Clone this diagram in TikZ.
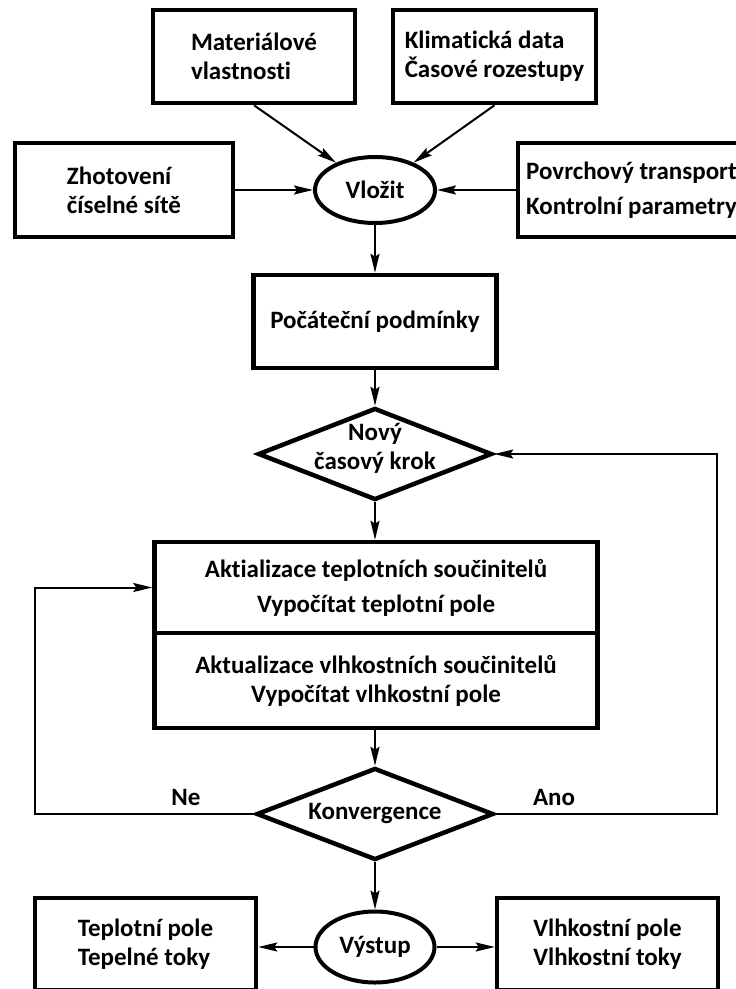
\documentclass[tikz,border=0pt]{standalone}
\usepackage{fontspec}
\setmainfont{Carlito}[Ligatures={NoCommon}]
\usepackage{tikz}
\usetikzlibrary{arrows.meta}
\usetikzlibrary{shapes.geometric}

\begin{document}
\begin{tikzpicture}[x=1pt, y=-1pt, line width=2pt]
    \tikzset{>={Stealth[length=19pt, width=9pt, inset=3pt]}}
    \tikzset{txt/.style={font=\fontsize{25}{29}\selectfont\bfseries, align=left, inner sep=0pt}}
    \tikzset{blk/.style={txt, draw, rectangle, line width=4.5pt}}
    \tikzset{oval/.style={txt, draw, ellipse, line width=4pt}}
    \tikzset{dia/.style={draw, diamond, line width=4.5pt, inner sep=0pt}}

    \useasboundingbox (0, 0) rectangle (736, 989);

    % Inputs round the first oval
    \node[blk, minimum width=202, minimum height=93] (mat) at (254, 56.5) {Materiálové\\vlastnosti};
    \node[blk, minimum width=203, minimum height=93] (klim) at (494.5, 56.5) {Klimatická data\\Časové rozestupy};
    \node[blk, minimum width=218, minimum height=94] (mesh) at (124, 190) {Zhotovení\\číselné sítě};
    \node[blk, minimum width=227, minimum height=94, font=\fontsize{25}{35}\selectfont\bfseries] (surf) at (631.5, 190) {Povrchový transport\\Kontrolní parametry};
    \node[oval, minimum width=120, minimum height=66] (input) at (375, 190) {Vložit};

    \draw[->] (mat.south) -- (input);
    \draw[->] (klim.south) -- (input);
    \draw[->] (mesh.east) -- (input.west);
    \draw[->] (surf.west) -- (input.east);

    % Time loop
    \node[blk, minimum width=243, minimum height=93] (init) at (375, 321.5) {Počáteční podmínky};
    \node[dia, minimum width=234, minimum height=92,
        label={[txt, align=center, yshift=6pt]center:Nový\\časový krok}] (step) at (375, 454) {};
    \node[blk, minimum width=443, minimum height=91, align=center, font=\fontsize{25}{35}\selectfont\bfseries] (heat) at (376, 587.5)
        {Aktializace teplotních součinitelů\\Vypočítat teplotní pole};
    \node[blk, minimum width=443, minimum height=95, align=center] (moist) at (376, 680.5)
        {Aktualizace vlhkostních součinitelů\\Vypočítat vlhkostní pole};
    \node[dia, minimum width=237, minimum height=92,
        label={[txt]center:Konvergence}] (conv) at (375, 814) {};

    \draw[->] (input.south) -- (init.north);
    \draw[->] (init.south) -- (step.north);
    \draw[->] (step.south) -- (step.south |- heat.north);
    \draw[->] (step.south |- moist.south) -- (conv.north);

    % Return paths
    \coordinate (lft) at (35, 814);
    \coordinate (rgt) at (717, 814);
    \draw[->] (conv.west) -- (lft) |- (heat.west);
    \draw[->] (conv.east) -- (rgt) |- (step.east);
    \node[txt] (no) at (186, 797) {Ne};
    \node[txt] (yes) at (554, 797) {Ano};

    % Outputs
    \node[oval, minimum width=119, minimum height=71] (output) at (375, 947) {Výstup};
    \node[blk, minimum width=221, minimum height=92] (resT) at (145.5, 944) {Teplotní pole\\Tepelné toky};
    \node[blk, minimum width=221, minimum height=92] (resM) at (607.5, 944) {Vlhkostní pole\\Vlhkostní toky};

    \draw[->] (conv.south) -- (output.north);
    \draw[->] (output.west) -- (output.west -| resT.east);
    \draw[->] (output.east) -- (output.east -| resM.west);
\end{tikzpicture}
\end{document}
